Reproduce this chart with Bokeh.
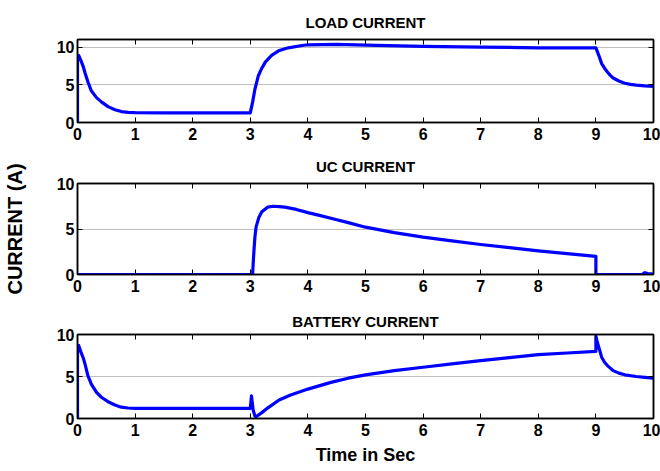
from bokeh.plotting import figure
from bokeh.layouts import column
from bokeh.models import LinearAxis, Range1d, FixedTicker
from bokeh.embed import file_html
from bokeh.resources import INLINE

# Time axis ticks and current-axis ticks
x_ticks = [0, 1, 2, 3, 4, 5, 6, 7, 8, 9, 10]
y_ticks = [0, 5, 10]

# Load current (A)
load_t = [0, 0, 0.02, 0.06, 0.1, 0.13, 0.18, 0.24, 0.33, 0.42, 0.53, 0.65, 0.76,
          0.88, 1.0, 1.5, 2.0, 2.5, 3.0, 3.04, 3.08, 3.14, 3.2, 3.26, 3.37, 3.49,
          3.66, 3.9, 4.0, 4.5, 5.0, 6.0, 7.0, 8.0, 9.0, 9.02, 9.05, 9.1, 9.15, 9.2,
          9.25, 9.3, 9.4, 9.5, 9.6, 9.7, 9.85, 10.0]
load_i = [0, 8.6, 8.9, 8.2, 7.4, 6.6, 5.4, 4.2, 3.3, 2.7, 2.1, 1.7, 1.45,
          1.35, 1.3, 1.28, 1.28, 1.28, 1.28, 2.7, 4.4, 6.2, 7.2, 8.0, 8.9, 9.5,
          9.9, 10.2, 10.3, 10.35, 10.25, 10.1, 10.0, 9.9, 9.9, 9.5, 8.9, 7.8, 7.2, 6.7,
          6.25, 5.9, 5.5, 5.2, 5.05, 4.95, 4.85, 4.8]

# Ultracapacitor current (A)
uc_t = [0, 3.04, 3.045, 3.06, 3.08, 3.1, 3.15, 3.2, 3.3, 3.4, 3.5, 3.6, 3.8,
        4.0, 4.2, 4.45, 4.7, 5.0, 5.5, 6.0, 6.5, 7.0, 7.5, 8.0, 8.5, 9.0, 9.0,
        9.8, 9.85, 9.9, 10.0]
uc_i = [0, 0, 0.6, 2.3, 4.1, 5.2, 6.3, 6.9, 7.4, 7.5, 7.45, 7.4, 7.15,
        6.8, 6.5, 6.1, 5.7, 5.2, 4.6, 4.1, 3.7, 3.3, 2.95, 2.6, 2.3, 2.0, 0,
        0, 0.2, 0.1, 0.05]

# Battery current (A)
bat_t = [0, 0, 0.02, 0.06, 0.1, 0.13, 0.18, 0.24, 0.33, 0.42, 0.53, 0.65, 0.76,
         0.88, 1.0, 1.5, 2.0, 2.5, 3.0, 3.02, 3.05, 3.08, 3.1, 3.2, 3.3, 3.5,
         3.7, 4.0, 4.4, 4.7, 5.0, 5.5, 6.0, 6.5, 7.0, 7.5, 8.0, 8.5, 9.0, 9.0,
         9.02, 9.05, 9.1, 9.15, 9.2, 9.3, 9.4, 9.5, 9.7, 9.85, 10.0]
bat_i = [0, 8.5, 8.7, 7.9, 7.2, 6.5, 5.1, 4.1, 3.1, 2.5, 2.0, 1.6, 1.35,
         1.25, 1.2, 1.2, 1.2, 1.2, 1.2, 2.7, 1.0, 0.3, 0.2, 0.7, 1.24, 2.2,
         2.8, 3.5, 4.3, 4.8, 5.2, 5.7, 6.1, 6.5, 6.9, 7.25, 7.6, 7.8, 8.0, 9.8,
         9.2, 8.5, 7.3, 6.7, 6.3, 5.7, 5.4, 5.2, 5.0, 4.9, 4.8]

FONT = "Liberation Sans"


def style_ticks(ax, ticks):
    ax.ticker = FixedTicker(ticks=ticks)
    ax.axis_line_color = "black"
    ax.axis_line_width = 1.5
    ax.major_tick_in = 5
    ax.major_tick_out = 0
    ax.major_tick_line_color = "black"
    ax.minor_tick_line_color = None


def panel(title, t, i, ymax, height, top, bottom, title_gap,
          xlabel=None, ylabel=None):
    p = figure(width=660, height=height,
               x_range=Range1d(0, 10), y_range=Range1d(0, ymax),
               output_backend="svg", toolbar_location=None,
               min_border_left=76, min_border_right=7,
               min_border_top=top, min_border_bottom=bottom)
    p.title.text = title
    p.title.align = "center"
    p.title.text_font = FONT
    p.title.text_font_size = "15px"
    p.title.text_font_style = "bold"
    p.title.text_color = "black"
    p.title.standoff = title_gap

    p.outline_line_color = "black"
    p.outline_line_width = 1.5

    p.xgrid.visible = False
    p.ygrid.ticker = FixedTicker(ticks=y_ticks)
    p.ygrid.grid_line_color = "#808080"
    p.ygrid.grid_line_dash = "1 1"
    p.ygrid.grid_line_width = 1

    xax = p.below[0]
    yax = p.left[0]
    for ax, ticks in ((xax, x_ticks), (yax, y_ticks)):
        style_ticks(ax, ticks)
        ax.major_label_text_font = FONT
        ax.major_label_text_font_size = "16px"
        ax.major_label_text_font_style = "bold"
        ax.major_label_text_color = "black"
    xax.major_label_standoff = 5
    yax.major_label_standoff = 3

    # inward tick marks on the top and right edges of the box, no labels
    for side, ticks in (("above", x_ticks), ("right", y_ticks)):
        ax = LinearAxis(major_label_text_color=None, major_label_standoff=0)
        style_ticks(ax, ticks)
        p.add_layout(ax, side)

    if xlabel:
        xax.axis_label = xlabel
        xax.axis_label_text_font = FONT
        xax.axis_label_text_font_size = "18px"
        xax.axis_label_text_font_style = "bold"
        xax.axis_label_text_color = "black"
        xax.axis_label_standoff = 6
    if ylabel:
        yax.axis_label = ylabel
        yax.axis_label_text_font = FONT
        yax.axis_label_text_font_size = "20px"
        yax.axis_label_text_font_style = "bold"
        yax.axis_label_text_color = "black"
        yax.axis_label_standoff = 28

    p.line(t, i, line_color="#0000ff", line_width=3.2, line_join="round")
    return p


p1 = panel("LOAD CURRENT", load_t, load_i, 11, 145, 39, 23, 17)
p2 = panel("UC CURRENT", uc_t, uc_i, 10, 160, 38, 31, 17, ylabel="CURRENT (A)")
p3 = panel("BATTERY CURRENT", bat_t, bat_i, 10, 166, 29, 53, 9,
           xlabel="Time in Sec")

layout = column(p1, p2, p3, spacing=0)
open("out.html", "w").write(file_html(layout, INLINE))
